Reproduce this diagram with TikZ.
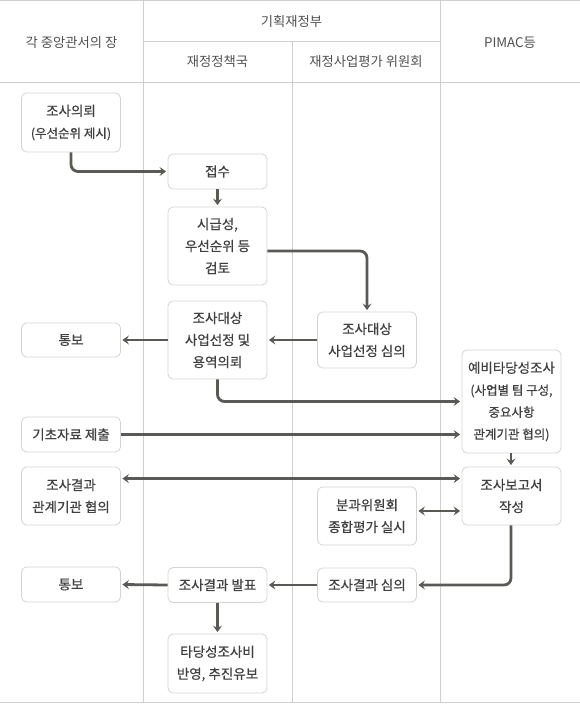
\documentclass[tikz,border=0pt]{standalone}
\usepackage{fontspec}
\setmainfont{Noto Sans CJK KR}
\newfontfamily\boxfont[FakeBold=0.6]{Noto Sans CJK KR}
\usetikzlibrary{arrows.meta,calc}
\definecolor{txt}{HTML}{404040}
\definecolor{htxt}{HTML}{505050}
\definecolor{boxc}{HTML}{D4D4D4}
\definecolor{gridc}{HTML}{CFCFCF}
\definecolor{arrc}{HTML}{5A5A55}
\begin{document}
\begin{tikzpicture}[x=1pt,y=-1pt,
  box/.style={draw=boxc, line width=0.8pt, rounded corners=5pt, minimum width=99pt,
    align=center, text=txt, inner sep=0pt, font=\boxfont\fontsize{13.5}{22}\selectfont},
  hdr/.style={text=htxt, font=\fontsize{13.3}{16}\selectfont, inner sep=0pt},
  grid/.style={draw=gridc, line width=0.8pt},
  tip/.tip={Stealth[length=6.5pt,width=9pt,inset=2.5pt]},
  conn/.style={draw=arrc, line width=2.8pt, -tip, rounded corners=7pt, shorten >=1.5pt},
  dconn/.style={draw=arrc, line width=2.8pt, tip-tip, shorten >=1.5pt, shorten <=1.5pt}]
\useasboundingbox (0,0) rectangle (580,704);
% grid
\draw[grid] (0,0.5) -- (580,0.5);
\draw[grid] (0,82.5) -- (580,82.5);
\draw[grid] (143,41.5) -- (440,41.5);
\draw[grid] (0,702.5) -- (580,702.5);
\draw[grid] (143.5,0) -- (143.5,703);
\draw[grid] (292,41.5) -- (292,703);
\draw[grid] (440.5,0) -- (440.5,703);
% headers
\node[hdr] (h1) at (71.5,43) {각 중앙관서의 장};
\node[hdr] (h2) at (291.5,21) {기획재정부};
\node[hdr] (h21) at (217.5,62) {재정정책국};
\node[hdr] (h22) at (366,62) {재정사업평가 위원회};
\node[hdr] (h3) at (510,43) {PIMAC등};
% boxes
\node[box, minimum height=59pt] (req) at (71,122.5) {조사의뢰\\{\fontsize{12.5}{22}\selectfont(우선순위 제시)}};
\node[box, minimum height=35pt] (recv) at (217.5,171.5) {접수};
\node[box, minimum height=78pt] (review) at (217.5,246) {시급성,\\우선순위 등\\검토};
\node[box, minimum height=78pt] (sel) at (217.5,340) {조사대상\\사업선정 및\\용역의뢰};
\node[box, minimum height=56pt] (delib) at (367,340) {조사대상\\사업선정 심의};
\node[box, minimum height=34pt] (notify1) at (71,340) {통보};
\node[box, minimum height=103pt] (prelim) at (511.5,401.5) {예비타당성조사\\{\fontsize{12.5}{22}\selectfont(사업별 팀 구성,}\\{\fontsize{12.5}{22}\selectfont 중요사항}\\{\fontsize{12.5}{22}\selectfont 관계기관 협의)}};
\node[box, minimum height=35pt] (basic) at (71,434.5) {기초자료 제출};
\node[box, minimum height=58pt] (consult) at (71,496) {조사결과\\관계기관 협의};
\node[box, minimum height=58pt] (report) at (511.5,496) {조사보고서\\작성};
\node[box, minimum height=58pt] (subcomm) at (367,516) {분과위원회\\종합평가 실시};
\node[box, minimum height=35pt] (notify2) at (71,584.5) {통보};
\node[box, minimum height=35pt] (announce) at (217.5,585) {조사결과 발표};
\node[box, minimum height=34pt] (resdelib) at (367,585) {조사결과 심의};
\node[box, minimum height=59pt] (final) at (217.5,663.5) {타당성조사비\\반영, 추진유보};
% connectors
\draw[conn] (req.south) |- (recv.west);
\draw[conn] (recv.south) -- (review.north);
\draw[conn] ([yshift=-5pt]review.east) -| (delib.north);
\draw[conn] (delib.west) -- (sel.west -| sel.east);
\draw[conn] (sel.west) -- (notify1.east);
\draw[conn] (sel.south) |- (prelim.west);
\draw[conn] (basic.east) -- (basic.east -| prelim.west);
\draw[conn] ([xshift=-0.5pt]prelim.south) -- ([xshift=-0.5pt]report.north);
\draw[dconn] ([yshift=-12pt]consult.north east) -- ([yshift=-12pt]report.north west);
\draw[dconn] ([yshift=5pt]subcomm.east) -- ([yshift=5pt]subcomm.east -| report.west);
\draw[conn] ([xshift=-0.5pt]report.south) |- (resdelib.east);
\draw[conn] (resdelib.west) -- (announce.east);
\draw[conn] (announce.west) -- (notify2.east);
\draw[conn] (announce.south) -- (final.north);
\end{tikzpicture}
\end{document}
